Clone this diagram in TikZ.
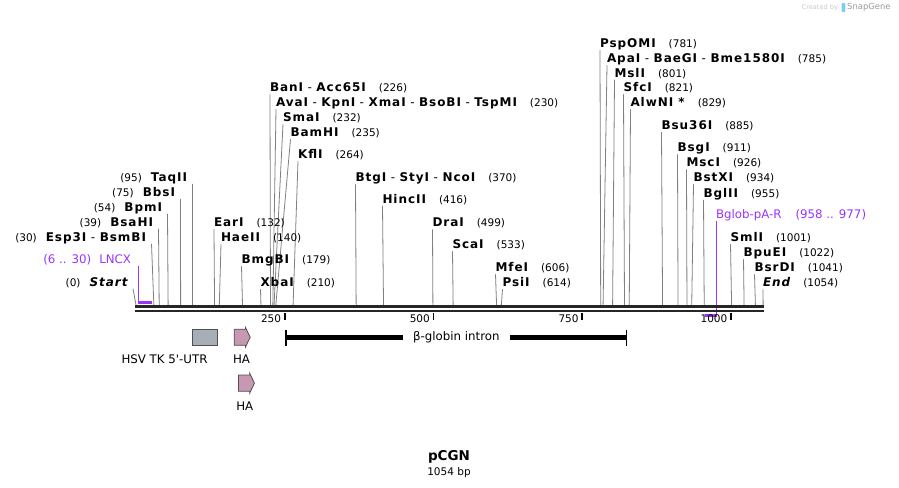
\documentclass[tikz,border=0pt]{standalone}
\usepackage{fontspec}
\setmainfont{DejaVu Sans}
\usepackage{tikz}
\definecolor{cutgray}{HTML}{808080}
\definecolor{seqdark}{HTML}{262626}
\definecolor{primerviolet}{HTML}{9933FF}
\definecolor{utrgray}{HTML}{A8AEB6}
\definecolor{hapink}{HTML}{C898B2}
\definecolor{featedge}{HTML}{505050}
\definecolor{snapblue}{HTML}{7FCCF2}
\newcommand{\bpno}[1]{{\fontsize{10.5}{12}\selectfont(#1)}}
\newcommand{\enz}[1]{{\bfseries\addfontfeature{LetterSpace=8}#1}}
\newcommand{\dash}{\hspace{4.5pt}-\hspace{4.5pt}}

\begin{document}
\begin{tikzpicture}[x=1pt, y=-1pt,
    enz/.style={inner sep=0pt, outer sep=0pt, text height=9pt, text depth=2.5pt, font=\fontsize{12}{14}\selectfont},
    cutline/.style={cutgray, line width=0.8pt},
    primer/.style={text=primerviolet, font=\fontsize{11.8}{13}\selectfont},
    seq/.style={seqdark, line width=2.2pt},
    tickmark/.style={black, line width=1.6pt},
    ticklabel/.style={inner sep=0pt, font=\fontsize{10.5}{12}\selectfont},
    featlabel/.style={inner sep=0pt, font=\fontsize{11.8}{13}\selectfont},
    haarrow/.style={fill=hapink, draw=featedge, line width=0.8pt}]
  \useasboundingbox (0,0) rectangle (899,487);

  \foreach \key/\lx/\ly/\pos/\txt in {
      BanI/270/87/226/{\enz{BanI}\dash\enz{Acc65I}},
      AvaI/276/102/230/{\enz{AvaI}\dash\enz{KpnI}\dash\enz{XmaI}\dash\enz{BsoBI}\dash\enz{TspMI}},
      SmaI/283/117/232/{\enz{SmaI}},
      BamHI/290.5/132/235/{\enz{BamHI}},
      KflI/298/154/264/{\enz{KflI}},
      BtgI/355.5/177/370/{\enz{BtgI}\dash\enz{StyI}\dash\enz{NcoI}},
      HincII/382.5/198.5/416/{\enz{HincII}},
      DraI/432.5/222/499/{\enz{DraI}},
      ScaI/452.5/244/533/{\enz{ScaI}},
      MfeI/495.5/267/606/{\enz{MfeI}},
      PsiI/502.5/282/614/{\enz{PsiI}},
      EarI/214/222/132/{\enz{EarI}},
      HaeII/221/237/140/{\enz{HaeII}},
      BmgBI/241.5/259/179/{\enz{BmgBI}},
      XbaI/260.5/282/210/{\enz{XbaI}},
      PspOMI/600/43/781/{\enz{PspOMI}},
      ApaI/607/58/785/{\enz{ApaI}\dash\enz{BaeGI}\dash\enz{Bme1580I}},
      MslI/614.5/72.5/801/{\enz{MslI}},
      SfcI/623.5/87/821/{\enz{SfcI}},
      AlwNI/630.5/102/829/{\enz{AlwNI *}},
      Bsu36I/661.5/125/885/{\enz{Bsu36I}},
      BsgI/677.5/147/911/{\enz{BsgI}},
      MscI/686.5/162/926/{\enz{MscI}},
      BstXI/693.5/177/934/{\enz{BstXI}},
      BglII/703.5/192.5/955/{\enz{BglII}},
      SmlI/730.5/237/1001/{\enz{SmlI}},
      BpuEI/743.5/252/1022/{\enz{BpuEI}},
      BsrDI/754.5/267/1041/{\enz{BsrDI}},
      End/763/282/1054/{\enz{\itshape End}}}{
    \node[enz, anchor=west] (\key) at (\lx,{\ly+1.5}) {\txt\hspace{13pt}\bpno{\pos}};
    \coordinate (\key-s) at ({136+0.595*\pos},305);
    \draw[cutline] (\key.south west) -- (\key-s);
  }

  \foreach \key/\ex/\ly/\pos/\txt in {
      TaqII/192.5/176.5/95/{\enz{TaqII}},
      BbsI/180.5/191.5/75/{\enz{BbsI}},
      BpmI/167.5/206.5/54/{\enz{BpmI}},
      BsaHI/158.5/221.5/39/{\enz{BsaHI}},
      Esp3I/151.5/236.5/30/{\enz{Esp3I}\dash\enz{BsmBI}},
      Start/133/281.5/0/{\enz{\itshape Start}}}{
    \node[enz, anchor=east] (\key) at ({\ex-5.5},{\ly+1.5}) {\bpno{\pos}\hspace{9pt}\txt};
    \coordinate (\key-s) at ({136+0.595*\pos},305);
    \draw[cutline] ([xshift=5.5pt]\key.south east) -- (\key-s);
  }

  \node[enz, primer, anchor=east] (LNCX) at (131,260) {(6 .. 30)\hspace{8pt}LNCX};
  \coordinate (LNCX-s) at (138.3,302.5);
  \draw[primerviolet, line width=1.3pt] (LNCX-s |- LNCX.south) -- (LNCX-s);
  \draw[primerviolet, line width=2.2pt] ([xshift=-0.6pt]LNCX-s) -- ++(14,0);

  \node[enz, primer, anchor=west] (Bglob) at (716,215) {Bglob-pA-R\hspace{14pt}(958 .. 977)};
  \coordinate (Bglob-s) at (716.6,315.5);
  \draw[primerviolet, line width=1.3pt] (Bglob-s |- Bglob.south) -- (Bglob-s);
  \draw[primerviolet, line width=2.2pt] ([xshift=0.6pt]Bglob-s) -- ++(-12,0);

  \coordinate (seqL) at (135,306.5);
  \coordinate (seqR) at (764,306.5);
  \draw[seq] (seqL) -- (seqR);
  \draw[seq] ([yshift=-4.5pt]seqL) -- ([yshift=-4.5pt]seqR);
  \foreach \t in {250,500,750,1000}{
    \draw[tickmark] ({136+0.595*\t},313) -- ++(0,7);
    \node[ticklabel, anchor=east] (tick\t) at ({132.5+0.595*\t},319) {\t};
  }

  \node[draw=featedge, fill=utrgray, line width=0.8pt, minimum width=25pt, minimum height=16.5pt, inner sep=0pt] (utr) at (205.2,337.5) {};
  \node[featlabel] (utrlabel) at (164.5,359) {HSV TK 5\textquotesingle-UTR};
  \draw[haarrow] (234.2,329.2) -- (245.5,329.2) -- (245.5,327.5) -- (250.2,337.2) -- (245.5,347) -- (245.5,345.3) -- (234.2,345.3) -- cycle;
  \node[featlabel] (ha1) at (241.5,359) {HA};
  \draw[haarrow] (238.4,375) -- (249.8,375) -- (249.8,373.3) -- (254.4,383.2) -- (249.8,393) -- (249.8,391.3) -- (238.4,391.3) -- cycle;
  \node[featlabel] (ha2) at (244.8,406) {HA};

  \coordinate (intronL) at (286.3,337.5);
  \coordinate (intronR) at (626.5,337.5);
  \draw[black, line width=5pt] (intronL) -- (intronR) node[midway, fill=white, featlabel, inner xsep=10pt, inner ysep=3pt] (intron) {β-globin intron};
  \draw[black, line width=1.8pt] ([yshift=8pt]intronL) -- ([yshift=-8pt]intronL);
  \draw[black, line width=1.8pt] ([yshift=8pt]intronR) -- ([yshift=-8pt]intronR);

  \node[anchor=base, font=\fontsize{13.5}{15}\selectfont\bfseries] (title) at (449,460.5) {pCGN};
  \node[anchor=base, font=\fontsize{10.5}{12}\selectfont] (size) at (449,475) {1054 bp};

  \node[anchor=base west, inner sep=0pt, font=\fontsize{6.6}{8}\selectfont, text=black!22] (credit) at (801.5,9.5) {Created by};
  \fill[snapblue, rounded corners=1pt] (841.5,3) rectangle (845.3,12);
  \node[anchor=base west, inner sep=0pt, font=\fontsize{8.4}{9}\selectfont, text=black!40] (brand) at (847,10) {SnapGene};
\end{tikzpicture}
\end{document}
